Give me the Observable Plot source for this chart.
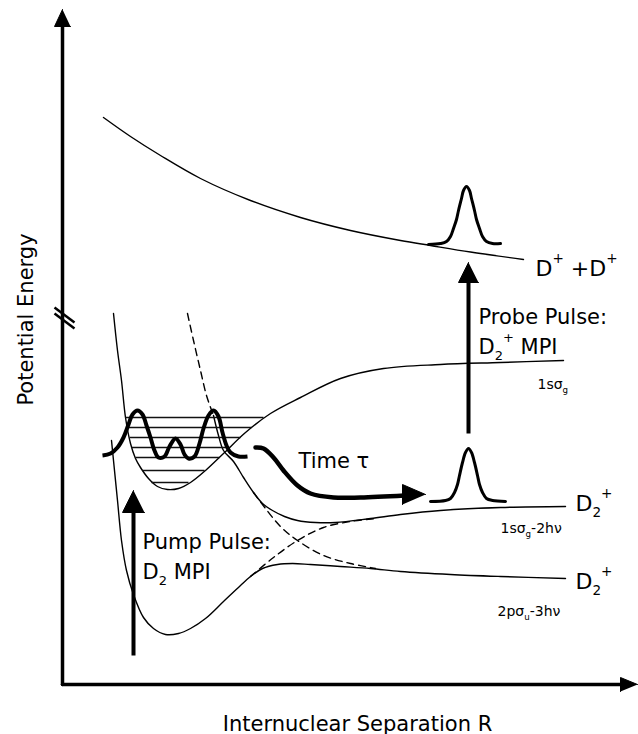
<!DOCTYPE html>
<html><head><meta charset="utf-8">
<script src="https://cdn.jsdelivr.net/npm/d3@7"></script>
<script src="https://cdn.jsdelivr.net/npm/@observablehq/plot@0.6"></script>
<style>html,body{margin:0;padding:0;background:#fff;} svg{display:block;}</style>
</head><body>
<script>
// ---- Data (arbitrary units: R = internuclear separation, E = potential energy) ----
// D+ + D+ repulsive curve
const dissocR = [41, 68, 98, 138, 188, 238, 288, 338, 368, 408, 461];
const dissocE = [567, 548, 529, 506, 484, 467, 454, 444, 439, 432.5, 425];
// D2+ 1s sigma_g bound curve
const groundR = [51, 55, 59, 63, 68, 73, 78, 86, 95, 105, 116, 128, 143, 161, 183, 208, 238, 278, 321, 378, 438, 501];
const groundE = [371, 334, 304, 267, 241, 226, 217, 206, 198, 195, 196, 202, 214, 231, 252, 271, 287, 306, 316, 320, 322, 324];
// vibrational levels in the 1s sigma_g well
const levelE  = [267, 257, 247, 237, 227, 214, 202];
const levelR0 = [63, 65, 67, 69, 73, 80, 89];
const levelR1 = [201, 189, 178, 167, 157, 142, 126];
// initial vibrational wave packet
const packetR = [40, 48, 55, 61, 66, 70, 75, 80, 84, 88, 92, 96, 102, 107, 113, 118, 122, 126, 132, 137, 141, 146, 151, 156, 160, 164, 168, 176, 185];
const packetE = [229, 231, 237, 247, 260, 270, 274, 270, 259, 247, 234, 227, 228, 238, 246, 240, 230, 226, 228, 241, 256, 269, 274, 268, 252, 239, 232, 228, 228];
// dressed repulsive curve (dashed, upper part)
const repDashR = [125, 131, 138, 144, 151];
const repDashE = [371, 344, 314, 289, 269];
// upper adiabatic curve (-> 1s sigma_g - 2hv)
const upAdR = [151, 156, 161, 171, 181, 191, 200, 210, 222, 235, 253, 273, 308, 338, 378, 438, 503];
const upAdE = [269, 249, 234, 223, 207, 192, 181, 174, 168, 164, 162, 162, 166, 170, 174, 177, 178];
// lower adiabatic curve (-> 2p sigma_u - 3hv)
const lowAdR = [49, 51, 55, 59, 64, 71, 81, 91, 103, 116, 128, 143, 161, 178, 188, 200, 215, 230, 248, 278, 308, 338, 388, 438, 503];
const lowAdE = [244, 224, 184, 144, 114, 90, 67, 56, 50, 51, 56, 66, 83, 99, 108, 116, 120, 121, 120, 118, 116, 113, 110, 108, 106];
// diabatic crossing curves (dashed)
const diaAR = [191, 203, 218, 235, 261, 288, 313];
const diaAE = [192, 176, 158, 144, 129, 121, 116];
const diaBR = [188, 211, 235, 261, 288, 313];
const diaBE = [108, 127, 144, 157, 163, 166];
// dissociating wave packets
const gTopR = [366, 378, 384, 388, 391, 394, 396, 399, 401, 404, 407, 409, 412, 414, 417, 420, 424, 430, 438];
const gTopE = [440, 441, 443, 448, 456, 465, 474, 486, 494, 498, 494, 486, 474, 465, 456, 448, 443, 441, 441];
const gLowR = [368, 383, 388, 392, 395, 397, 400, 403, 406, 409, 412, 415, 417, 420, 424, 430, 443];
const gLowE = [183, 184, 186, 192, 200, 209, 222, 232, 236, 232, 222, 209, 200, 192, 186, 184, 183];
// "Time tau" arrow path (last point = tip)
const timeR = [193, 201, 211, 221, 235, 248, 271, 298, 342, 363];
const timeE = [237, 236, 227, 214, 199, 191, 187, 187, 189, 190];
// pump / probe vertical arrows
const pulseR  = [71, 406];
const pulseE0 = [29, 251];
const pulseE1 = [194, 422];
// axes extent
const rMax = 575, eMax = 675;
const breakE0 = [377, 371], breakE1 = [362, 356];
// labels
const bigText = ["D^{+} +D^{+}", "D_{2}^{+}", "D_{2}^{+}"];
const bigR = [473, 513, 513];
const bigE = [409, 174, 96];
const midText = ["Probe Pulse:", "D_{2}^{+} MPI", "Time τ", "Pump Pulse:", "D_{2} MPI"];
const midR = [416, 416, 236, 80, 80];
const midE = [361, 331, 217, 136, 106];
const smallText = ["1sσ_{g}", "1sσ_{g}-2hν", "2pσ_{u}-3hν"];
const smallR = [475, 438, 435];
const smallE = [296, 152, 69];
const xTitle = "Internuclear Separation R";
const yTitle = "Potential Energy";

// ---- helpers ----
const pts = (R, E) => R.map((r, i) => ({r, e: E[i]}));
const lbl = (T, R, E) => T.map((t, i) => ({t, r: R[i], e: E[i]}));
const headUp = (r, e, len, hw) => [{r, e}, {r: r - hw, e: e - len}, {r: r + hw, e: e - len}];
const headRight = (r, e, len, hw) => [{r, e}, {r: r - len, e: e + hw}, {r: r - len, e: e - hw}];
const thin = {x: "r", y: "e", stroke: "black", strokeWidth: 1.4, curve: "catmull-rom"};
const dashed = {...thin, strokeDasharray: "7,5"};
const filled = {x: "r", y: "e", fill: "black", stroke: "black", strokeWidth: 1, strokeLinejoin: "miter"};

const n = timeR.length;
const timeShaft = pts(timeR.slice(0, n - 1), timeE.slice(0, n - 1));

const chart = Plot.plot({
  width: 638, height: 734, margin: 0,
  x: {domain: [-62, 576], axis: null},
  y: {domain: [-50, 684], axis: null},
  style: {fontFamily: "'DejaVu Sans', sans-serif", background: "white", color: "black", overflow: "visible"},
  marks: [
    // axes
    Plot.line([{r: 0, e: 0}, {r: 0, e: eMax - 15}], {x: "r", y: "e", stroke: "black", strokeWidth: 3.5}),
    Plot.line([{r: 0, e: 0}, {r: rMax - 15, e: 0}], {x: "r", y: "e", stroke: "black", strokeWidth: 3.5}),
    Plot.line(headUp(0, eMax, 17, 8), filled),
    Plot.line(headRight(rMax, 0, 17, 7), filled),
    Plot.link(breakE0, {x1: -8, x2: 12, y1: d => d, y2: (d, i) => breakE1[i], stroke: "black", strokeWidth: 2.5}),
    // potential curves
    Plot.line(pts(dissocR, dissocE), thin),
    Plot.line(pts(groundR, groundE), thin),
    Plot.line(pts(upAdR, upAdE), thin),
    Plot.line(pts(lowAdR, lowAdE), thin),
    Plot.line(pts(repDashR, repDashE), dashed),
    Plot.line(pts(diaAR, diaAE), dashed),
    Plot.line(pts(diaBR, diaBE), dashed),
    // vibrational levels
    Plot.link(levelE, {x1: (d, i) => levelR0[i], x2: (d, i) => levelR1[i], y1: d => d, y2: d => d,
      stroke: "#111", strokeWidth: 1.5}),
    // wave packets
    Plot.line(pts(packetR, packetE), {x: "r", y: "e", stroke: "black", strokeWidth: 4, curve: "catmull-rom", strokeLinejoin: "round", strokeLinecap: "butt"}),
    Plot.line(pts(gTopR, gTopE), {x: "r", y: "e", stroke: "black", strokeWidth: 3, curve: "catmull-rom", strokeLinejoin: "round"}),
    Plot.line(pts(gLowR, gLowE), {x: "r", y: "e", stroke: "black", strokeWidth: 3, curve: "catmull-rom", strokeLinejoin: "round"}),
    // time arrow
    Plot.line(timeShaft, {x: "r", y: "e", stroke: "black", strokeWidth: 4.5, curve: "catmull-rom", strokeLinecap: "round"}),
    Plot.line(headRight(timeR[n - 1], timeE[n - 1], 23, 10), filled),
    // pump & probe arrows
    Plot.link(pulseR, {x1: d => d, x2: d => d, y1: (d, i) => pulseE0[i], y2: (d, i) => pulseE1[i] - 18, stroke: "black", strokeWidth: 4}),
    Plot.line(headUp(pulseR[0], pulseE1[0], 22, 11), filled),
    Plot.line(headUp(pulseR[1], pulseE1[1], 20, 10), filled),
    // labels
    Plot.text(lbl(bigText, bigR, bigE), {x: "r", y: "e", text: "t", fontSize: 22, textAnchor: "start", lineAnchor: "bottom", fill: "black"}),
    Plot.text(lbl(midText, midR, midE), {x: "r", y: "e", text: "t", fontSize: 21, textAnchor: "start", lineAnchor: "bottom", fill: "black"}),
    Plot.text(lbl(smallText, smallR, smallE), {x: "r", y: "e", text: "t", fontSize: 14, textAnchor: "start", lineAnchor: "bottom", fill: "black"}),
    Plot.text([xTitle], {x: 295, y: -46, text: d => d, fontSize: 21, textAnchor: "middle", lineAnchor: "bottom", fill: "black"}),
    Plot.text([yTitle], {x: -30, y: 365, text: d => d, fontSize: 21, textAnchor: "middle", lineAnchor: "bottom", rotate: -90, fill: "black"})
  ]
});
document.body.appendChild(chart);

// convert _{..} / ^{..} markup into sub/superscript tspans
function richText(root) {
  root.querySelectorAll("text").forEach(t => {
    const s = t.textContent;
    if (!/[_^]\{/.test(s)) return;
    const fs = parseFloat(getComputedStyle(t).fontSize) || 16;
    t.textContent = "";
    const re = /([_^])\{([^}]*)\}|([^_^]+)/g;
    let m, off = 0;
    while ((m = re.exec(s))) {
      const ts = document.createElementNS("http://www.w3.org/2000/svg", "tspan");
      let target;
      if (m[3] !== undefined) { ts.textContent = m[3]; target = 0; }
      else {
        ts.textContent = m[2];
        target = m[1] === "_" ? 0.3 * fs : -0.55 * fs;
        ts.setAttribute("font-size", (0.62 * fs).toFixed(1));
      }
      if (target !== off) ts.setAttribute("dy", (target - off).toFixed(1));
      off = target;
      t.appendChild(ts);
    }
  });
}
richText(chart);
</script>
</body></html>
